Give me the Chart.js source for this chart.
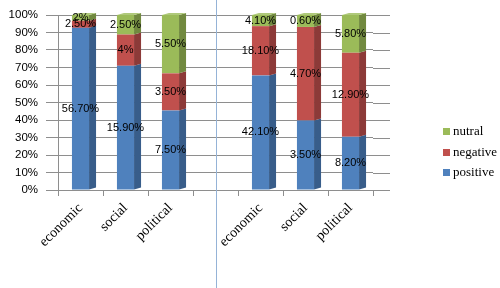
<!DOCTYPE html>
<html>
<head>
<meta charset="utf-8">
<script src="https://cdn.jsdelivr.net/npm/chart.js@4.4.0/dist/chart.umd.min.js"></script>
<style>
  html, body { margin: 0; padding: 0; background: #fff; }
  #wrap { position: relative; width: 500px; height: 288px; overflow: hidden; }
  #legend { position: absolute; left: 443px; top: 122px; font-family: 'Liberation Serif', 'Times New Roman', serif; font-size: 13px; color: #000; }
  .item { position: relative; height: 20.5px; line-height: 18px; padding-left: 10px; white-space: nowrap; }
  .sw { position: absolute; left: 0; top: 6px; width: 7px; height: 7px; }
</style>
</head>
<body>
<div id="wrap">
  <canvas id="c" width="500" height="288"></canvas>
  <div id="legend"></div>
</div>
<script>
// ---- data ----
const categories = ['economic', 'social', 'political', '', 'economic', 'social', 'political'];
const positive = [56.7, 15.9, 7.5, null, 42.1, 3.5, 8.2];
const negative = [2.5, 4, 3.5, null, 18.1, 4.7, 12.9];
const nutral   = [2, 2.5, 5.5, null, 4.1, 0.6, 5.8];
const yTicks = [0, 10, 20, 30, 40, 50, 60, 70, 80, 90, 100];

const seriesNames = ['positive', 'negative', 'nutral'];
const seriesRaw = [positive, negative, nutral];
const frontColors = ['#4F81BD', '#C0504D', '#9BBB59'];
const sideColors = ['#385D8A', '#8C3A38', '#71893F'];
const topColor = '#AFC97A';

// 100% stacked: share of each segment in its bar
const totals = categories.map((_, i) => seriesRaw.reduce((s, a) => s + (a[i] || 0), 0));
const share = arr => arr.map((v, i) => v == null ? null : v / totals[i] * 100);

function fmt(v) { return (Number.isInteger(v) ? String(v) : v.toFixed(2)) + '%'; }

const gridColor = '#8E8E8E';

const depth = 7, rise = 2;
const bar3d = {
  id: 'bar3d',
  beforeDatasetsDraw(chart) {
    const ctx = chart.ctx, ys = chart.scales.y, a = chart.chartArea;
    ctx.save();
    ctx.strokeStyle = gridColor; ctx.lineWidth = 1;
    ys.ticks.forEach((t, i) => {
      const y = Math.round(ys.getPixelForTick(i)) + 0.5;
      ctx.beginPath(); ctx.moveTo(a.right, y); ctx.lineTo(a.right + 17, y); ctx.stroke();
    });
    ctx.restore();
  },
  afterDatasetsDraw(chart) {
    const ctx = chart.ctx;
    ctx.save();
    const n = chart.data.datasets.length;
    chart.data.datasets.forEach((ds, di) => {
      const meta = chart.getDatasetMeta(di);
      meta.data.forEach((el, i) => {
        if (ds.data[i] == null) return;
        const p = el.getProps(['x', 'y', 'base', 'width'], true);
        const r = p.x + p.width / 2;
        ctx.fillStyle = sideColors[di];
        ctx.beginPath();
        ctx.moveTo(r, p.y); ctx.lineTo(r + depth, p.y - rise);
        ctx.lineTo(r + depth, p.base - rise); ctx.lineTo(r, p.base);
        ctx.closePath(); ctx.fill();
        // top cap on the last segment
        let isTop = true;
        for (let k = di + 1; k < n; k++) if (chart.data.datasets[k].data[i]) isTop = false;
        if (isTop) {
          const l = p.x - p.width / 2;
          ctx.fillStyle = topColor;
          ctx.beginPath();
          ctx.moveTo(l, p.y); ctx.lineTo(r, p.y);
          ctx.lineTo(r + depth, p.y - rise); ctx.lineTo(l + depth, p.y - rise);
          ctx.closePath(); ctx.fill();
        }
      });
    });
    // labels
    ctx.font = '11px "Liberation Sans", Arial, sans-serif';
    ctx.fillStyle = '#000';
    ctx.textAlign = 'center';
    ctx.textBaseline = 'middle';
    chart.data.datasets.forEach((ds, di) => {
      const meta = chart.getDatasetMeta(di);
      meta.data.forEach((el, i) => {
        const raw = seriesRaw[di][i];
        if (raw == null) return;
        const p = el.getProps(['x', 'y', 'base'], true);
        ctx.fillText(fmt(raw), p.x, (p.y + p.base) / 2);
      });
    });
    ctx.restore();
  },
  afterDraw(chart) {
    const ctx = chart.ctx, xs = chart.scales.x;
    const x = Math.round(xs.getPixelForTick(3)) + 0.5;
    ctx.save();
    ctx.strokeStyle = '#95B3D7'; ctx.lineWidth = 1;
    ctx.beginPath(); ctx.moveTo(x, 0); ctx.lineTo(x, chart.height); ctx.stroke();
    ctx.restore();
  }
};

new Chart(document.getElementById('c'), {
  type: 'bar',
  data: {
    labels: categories,
    datasets: seriesNames.map((name, k) => ({
      label: name,
      data: share(seriesRaw[k]),
      backgroundColor: frontColors[k],
      borderWidth: 0,
      barPercentage: 0.38,
      categoryPercentage: 1
    }))
  },
  options: {
    responsive: false,
    devicePixelRatio: 1,
    animation: false,
    layout: { padding: { left: 7, right: 127, top: 15, bottom: 0 } },
    plugins: { legend: { display: false }, tooltip: { enabled: false } },
    scales: {
      x: {
        stacked: true,
        grid: { drawOnChartArea: false, drawTicks: true, tickLength: 6, color: gridColor, offset: true },
        border: { display: true, color: gridColor },
        ticks: {
          autoSkip: false, maxRotation: 45, minRotation: 45, padding: 4,
          color: '#000', font: { family: '"Liberation Serif", "Times New Roman", serif', size: 14 }
        },
        afterFit(s) { s.height = 98; }
      },
      y: {
        stacked: true, min: 0, max: 100,
        afterBuildTicks(s) { s.ticks = yTicks.map(v => ({ value: v })); },
        grid: { color: gridColor, tickLength: 12 },
        border: { display: true, color: gridColor },
        ticks: {
          padding: 8, color: '#000',
          font: { family: '"Liberation Sans", Arial, sans-serif', size: 11.5 },
          callback: v => v + '%'
        },
        afterFit(s) { s.width = 51; }
      }
    }
  },
  plugins: [bar3d]
});

// legend (reverse order as in reference)
const lg = document.getElementById('legend');
[2, 1, 0].forEach(k => {
  const d = document.createElement('div');
  d.className = 'item';
  d.innerHTML = '<span class="sw" style="background:' + frontColors[k] + '"></span>' + seriesNames[k];
  lg.appendChild(d);
});
</script>
</body>
</html>
